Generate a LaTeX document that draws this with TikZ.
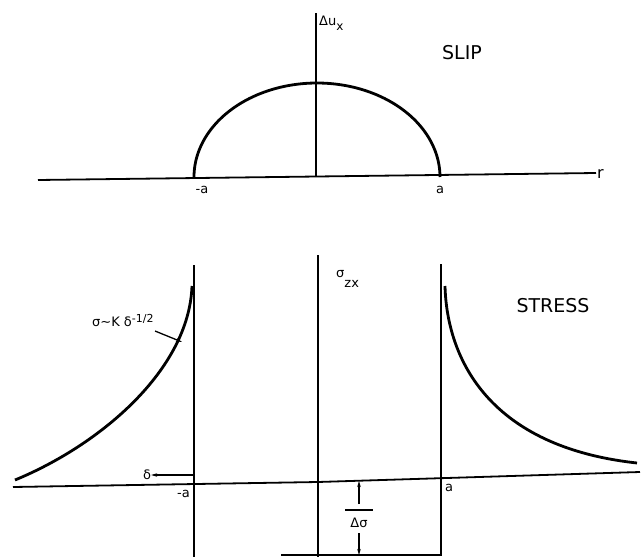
\documentclass[tikz,border=0pt]{standalone}
\usepackage{fontspec}
\setmainfont{DejaVu Sans}
\usetikzlibrary{arrows.meta}
\begin{document}
\begin{tikzpicture}[x=1pt,y=-1pt,
  axis/.style={line width=1.8pt},
  vline/.style={line width=1.5pt},
  curve/.style={line width=2.8pt},
  lbl/.style={inner sep=0pt, font=\fontsize{13}{13}\selectfont},
  big/.style={inner sep=0pt, font=\fontsize{19}{19}\selectfont},
  tip/.style={-{Stealth[length=6pt,width=3.5pt]}, line width=1.3pt}]
\useasboundingbox (0,0) rectangle (641,557);

% ---------- SLIP ----------
\coordinate (tl) at (38,180);
\coordinate (tr) at (596,173);
\coordinate (torig) at (316,177);
\coordinate (ttop) at (316,13);
\draw[axis] (tl) -- (tr);
\draw[vline] (torig) -- (ttop);
\draw[curve] plot[domain=180:0,samples=90] ({317+123*cos(\x)},{177-94*sin(\x)});

\node[lbl, anchor=west] (du) at (319,23) {Δu\raisebox{-5pt}{\fontsize{12}{12}\selectfont x}};
\node[big] (slip) at (462,53) {SLIP};
\node[lbl, font=\fontsize{16}{16}\selectfont, anchor=south west] (r) at (597,179) {r};
\node[lbl, anchor=north] (tma) at (202,186) {-a};
\node[lbl, anchor=north] (ta) at (440,186) {a};

% ---------- STRESS ----------
\coordinate (bl) at (13,487);
\coordinate (bm) at (318,482);
\coordinate (br) at (640,472);
\draw[axis] (bl) -- (bm) -- (br);

\coordinate (la) at (194,265);
\coordinate (lb) at (194,557);
\coordinate (ca) at (318,255);
\coordinate (cb) at (318,557);
\coordinate (ra) at (441,264);
\coordinate (rb) at (441,555);
\coordinate (bot) at (281,555);
\draw[vline] (la) -- (lb);
\draw[vline] (ca) -- (cb);
\draw[vline] (ra) -- (rb) -- (bot);

\coordinate (lctop) at (192,286);
\coordinate (lcend) at (15,480);
\coordinate (rctop) at (445,286);
\coordinate (rcend) at (637,463);
\draw[curve] (lctop) .. controls (189,370) and (100,445) .. (lcend);
\draw[curve] (rctop) .. controls (447,360) and (490,447) .. (rcend);

\node[lbl, anchor=west] (szx) at (336,279) {σ\raisebox{-10pt}{zx}};
\node[big] (stress) at (553,306) {STRESS};

\node[lbl, anchor=base west] (law) at (92,326) {σ∼K δ\raisebox{4pt}{\fontsize{11}{11}\selectfont -1/2}};
\coordinate (lawfrom) at (155,331);
\coordinate (lawto) at (182,342);
\draw[tip] (lawfrom) -- (lawto);

\node[lbl] (delta) at (147,475) {δ};
\coordinate (dfrom) at (194,475);
\draw[tip] (dfrom) -- (delta.east);

\node[lbl, anchor=north east] (bma) at (190,490) {-a};
\node[lbl, anchor=north west] (ba) at (445,484) {a};

\node[lbl] (ds) at (359,523) {Δσ};
\coordinate (barl) at (345,510);
\coordinate (barr) at (373,510);
\draw[line width=1.3pt] (barl) -- (barr);
\coordinate (upfrom) at (359,504);
\coordinate (upto) at (359,481);
\draw[tip] (upfrom) -- (upto);
\coordinate (dnfrom) at (359,533);
\coordinate (dnto) at (359,555);
\draw[tip] (dnfrom) -- (dnto);
\end{tikzpicture}
\end{document}
